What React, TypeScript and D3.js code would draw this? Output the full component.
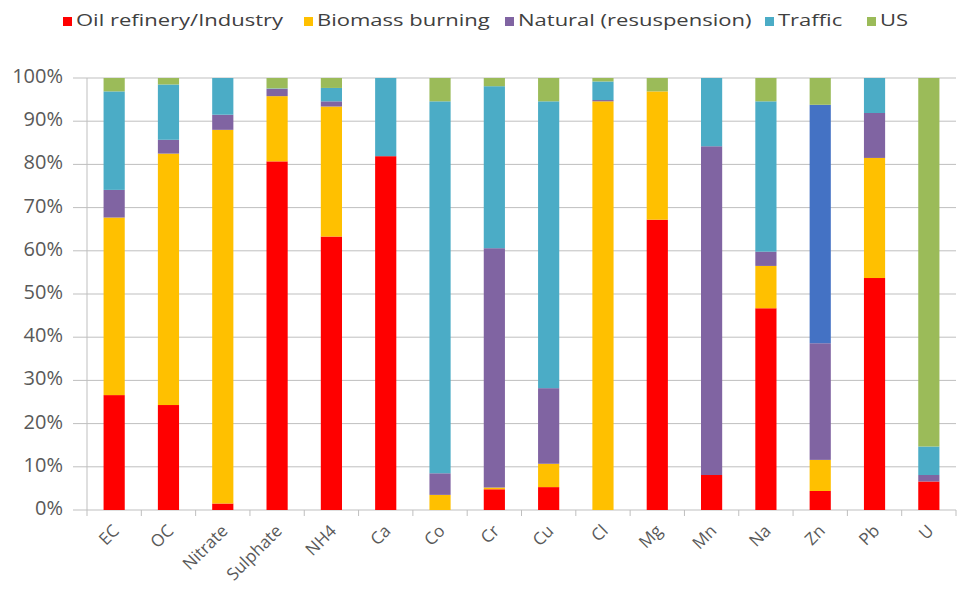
import React from "react";
import * as d3 from "d3";

const categories = ["EC", "OC", "Nitrate", "Sulphate", "NH4", "Ca", "Co", "Cr", "Cu", "Cl", "Mg", "Mn", "Na", "Zn", "Pb", "U"];
const seriesNames = ["Oil refinery/Industry", "Biomass burning", "Natural (resuspension)", "Traffic", "US"];
const seriesColors = ["#FF0000", "#FFC000", "#8064A2", "#4BACC6", "#9BBB59"];
const oilRefinery = [26.6, 24.3, 1.5, 80.7, 63.3, 81.9, 0, 4.8, 5.3, 0, 67.2, 8.1, 46.7, 4.4, 53.7, 6.6];
const biomass = [41.1, 58.2, 86.5, 15.1, 30.1, 0, 3.5, 0.4, 5.4, 94.6, 29.7, 0, 9.8, 7.2, 27.8, 0];
const natural = [6.4, 3.2, 3.5, 1.7, 1.2, 0, 5.0, 55.4, 17.5, 0.3, 0, 76.1, 3.3, 27.0, 10.4, 1.5];
const traffic = [22.8, 12.8, 8.5, 0.1, 3.1, 18.1, 86.1, 37.5, 66.4, 4.3, 0, 15.8, 34.8, 55.2, 8.1, 6.6];
const us = [3.1, 1.5, 0, 2.4, 2.3, 0, 5.4, 1.9, 5.4, 0.8, 3.1, 0, 5.4, 6.2, 0, 85.3];
const yTicks = [0, 10, 20, 30, 40, 50, 60, 70, 80, 90, 100];
const trafficOverrideCategory = "Zn";
const trafficOverrideColor = "#4472C4";

const W = 963, H = 590;
const M = { left: 87, right: 956, top: 78, bottom: 510 };
const FONT = "'Open Sans', 'Liberation Sans', sans-serif";

export default function App() {
  const values = [oilRefinery, biomass, natural, traffic, us];
  const x = d3.scaleBand<string>().domain(categories).range([M.left, M.right]).paddingInner(0.61).paddingOuter(0.305);
  const y = d3.scaleLinear().domain([0, 100]).range([M.bottom, M.top]);

  const rows = categories.map((c, i) => {
    const tot = values.reduce((s, v) => s + v[i], 0);
    const r: any = { cat: c };
    seriesNames.forEach((n, k) => (r[n] = (values[k][i] / tot) * 100));
    return r;
  });
  const stack = d3.stack<any>().keys(seriesNames)(rows);
  const step = x.step();

  const legendX = [63, 304, 505, 765, 867];

  return (
    <svg width={W} height={H} style={{ position: "absolute", left: 0, top: 0, background: "#fff" }}>
      <rect width={W} height={H} fill="#fff" />
      {/* legend */}
      {seriesNames.map((n, k) => (
        <g key={n} transform={`translate(${legendX[k]},0)`}>
          <rect x={0} y={17} width={9} height={9} fill={seriesColors[k]} />
          <text transform="translate(13,26) scale(1.35,1)" fontSize={16.3} fill="#404040" fontFamily={FONT}>{n}</text>
        </g>
      ))}
      {/* gridlines */}
      {yTicks.map((t) => (
        <g key={t}>
          <line x1={M.left - 14} x2={M.right} y1={y(t)} y2={y(t)} stroke="#BFBFBF" strokeWidth={1} />
          <text x={63} y={y(t) + 5} textAnchor="end" fontSize={20} fill="#595959" fontFamily={FONT}>{t}%</text>
        </g>
      ))}
      <line x1={M.left} x2={M.left} y1={M.top} y2={M.bottom} stroke="#BFBFBF" />
      {d3.range(categories.length + 1).map((i) => (
        <line key={i} x1={M.left + i * step} x2={M.left + i * step} y1={M.bottom} y2={M.bottom + 6} stroke="#BFBFBF" />
      ))}
      {/* bars */}
      {stack.map((layer, k) => (
        <g key={layer.key}>
          {layer.map((d, i) => {
            const cat = categories[i];
            const fill = k === 3 && cat === trafficOverrideCategory ? trafficOverrideColor : seriesColors[k];
            const h = y(d[0]) - y(d[1]);
            if (h <= 0) return null;
            return <rect key={cat} x={x(cat)} y={y(d[1])} width={x.bandwidth()} height={h} fill={fill} />;
          })}
        </g>
      ))}
      {/* x labels */}
      {categories.map((c) => {
        const cx = (x(c) as number) + x.bandwidth() / 2 + 6;
        return (
          <text key={c} transform={`translate(${cx},${M.bottom + 22}) rotate(-45)`} textAnchor="end" fontSize={17} fill="#595959" fontFamily={FONT}>{c}</text>
        );
      })}
    </svg>
  );
}
